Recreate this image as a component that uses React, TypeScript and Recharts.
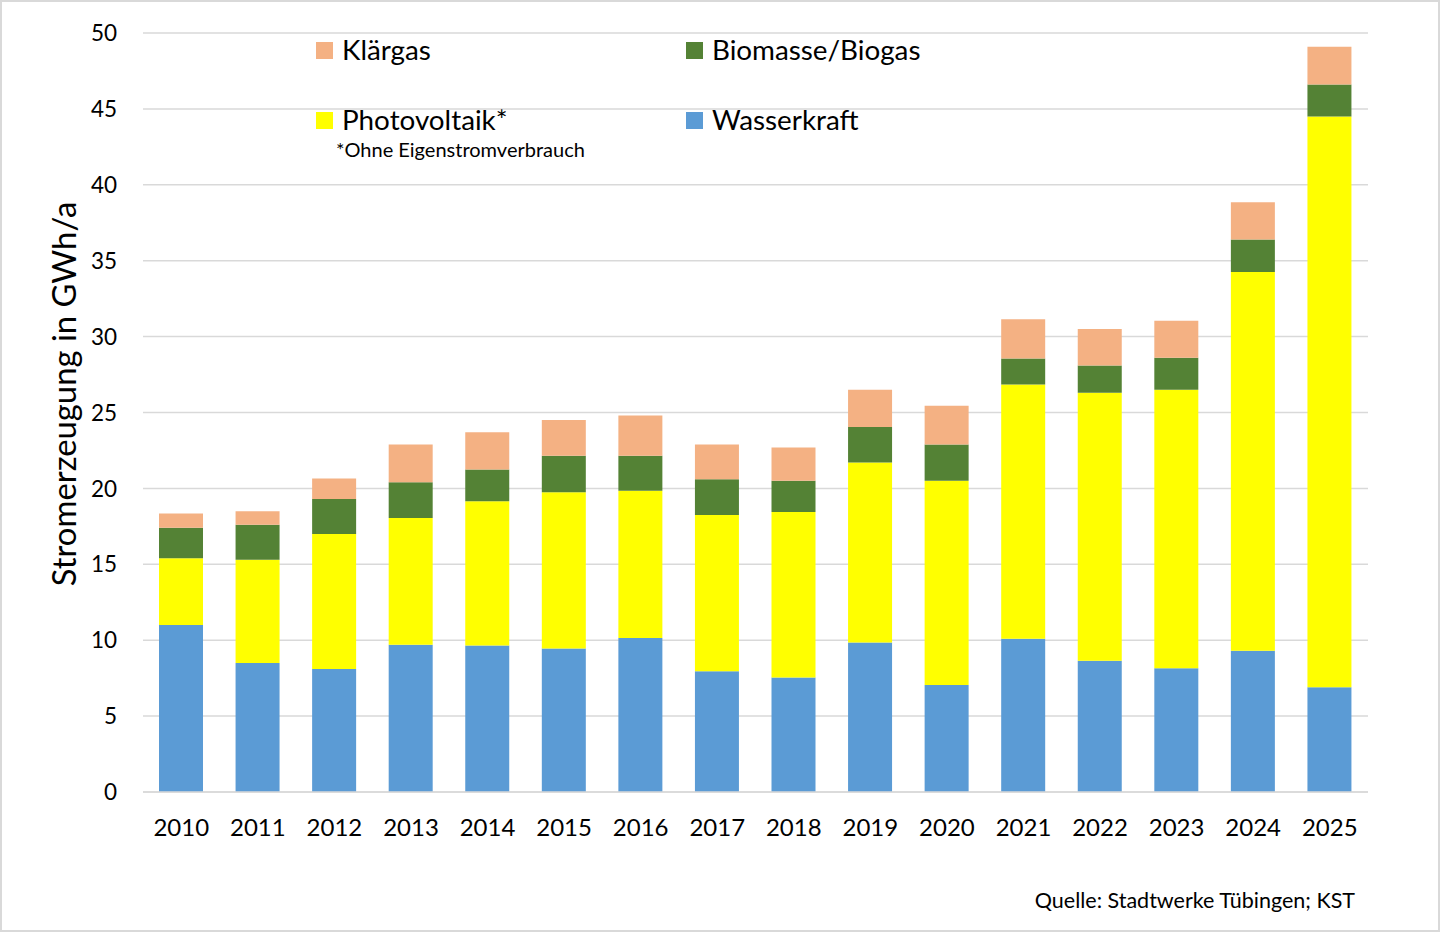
import { BarChart, Bar, XAxis, YAxis, CartesianGrid } from 'recharts';

const FONT = 'Lato, "Noto Sans", sans-serif';

// Jahre der X-Achse
const YEARS = ['2010', '2011', '2012', '2013', '2014', '2015', '2016', '2017', '2018', '2019', '2020', '2021', '2022', '2023', '2024', '2025'];

// Stromerzeugung je Quelle in GWh/a
const WASSERKRAFT = [11.0, 8.5, 8.1, 9.7, 9.65, 9.45, 10.15, 7.95, 7.55, 9.85, 7.05, 10.1, 8.65, 8.15, 9.3, 6.9];
const PHOTOVOLTAIK = [4.4, 6.8, 8.9, 8.35, 9.5, 10.3, 9.7, 10.3, 10.9, 11.85, 13.45, 16.75, 17.65, 18.35, 24.95, 37.6];
const BIOMASSE = [2.0, 2.3, 2.3, 2.35, 2.1, 2.4, 2.3, 2.35, 2.05, 2.35, 2.4, 1.7, 1.8, 2.1, 2.15, 2.1];
const KLAERGAS = [0.95, 0.9, 1.35, 2.5, 2.45, 2.35, 2.65, 2.3, 2.2, 2.45, 2.55, 2.6, 2.4, 2.45, 2.45, 2.5];

const Y_TICKS = [0, 5, 10, 15, 20, 25, 30, 35, 40, 45, 50];

// Stapelreihenfolge von unten nach oben
const SERIES = [
  { key: 'wasserkraft', label: 'Wasserkraft', color: '#5B9BD5', values: WASSERKRAFT },
  { key: 'photovoltaik', label: 'Photovoltaik*', color: '#FFFF00', values: PHOTOVOLTAIK },
  { key: 'biomasse', label: 'Biomasse/Biogas', color: '#548235', values: BIOMASSE },
  { key: 'klaergas', label: 'Klärgas', color: '#F4B183', values: KLAERGAS },
];

// Legende: zwei Spalten, zwei Zeilen wie im Original
const LEGEND = [
  { key: 'klaergas', x: 316, y: 42 },
  { key: 'biomasse', x: 686, y: 42 },
  { key: 'photovoltaik', x: 316, y: 112 },
  { key: 'wasserkraft', x: 686, y: 112 },
];

const data = YEARS.map((year, i) => {
  const row: { [k: string]: string | number } = { year };
  SERIES.forEach((s) => {
    row[s.key] = s.values[i];
  });
  return row;
});

function XTick({ x, y, payload }: any) {
  return (
    <text x={x} y={y + 44} textAnchor="middle" fontFamily={FONT} fontSize={24} fill="#000">
      {payload.value}
    </text>
  );
}

function YTick({ x, y, payload }: any) {
  return (
    <text x={x - 26} y={y} dy="0.36em" textAnchor="end" fontFamily={FONT} fontSize={22.5} fill="#000">
      {payload.value}
    </text>
  );
}

function YLabel() {
  return (
    <text
      x={63}
      y={394}
      transform="rotate(-90 63 394)"
      textAnchor="middle"
      dominantBaseline="central"
      fontFamily={FONT}
      fontSize={32.8}
      fill="#000">
      Stromerzeugung in GWh/a
    </text>
  );
}

export default function App() {
  return (
    <div style={{ position: 'fixed', left: 0, top: 0, width: 1440, height: 932, background: '#fff' }}>
      <BarChart
        width={1440}
        height={932}
        data={data}
        margin={{ top: 33, right: 72, bottom: 80, left: 0 }}>

        <CartesianGrid vertical={false} stroke="#d9d9d9" strokeWidth={1.5} />
        <XAxis
          dataKey="year"
          height={60}
          tickLine={false}
          tickSize={0}
          tickMargin={0}
          axisLine={{ stroke: '#d9d9d9', strokeWidth: 1.5 }}
          tick={<XTick />}
          interval={0} />

        <YAxis
          width={143}
          domain={[0, 50]}
          ticks={Y_TICKS}
          axisLine={false}
          tickLine={false}
          tickSize={0}
          tickMargin={0}
          tick={<YTick />}
          label={<YLabel />} />

        {SERIES.map((s) =>
        <Bar
          key={s.key}
          dataKey={s.key}
          name={s.label}
          stackId="a"
          fill={s.color}
          barSize={44}
          isAnimationActive={false} />
        )}
      </BarChart>

      <svg
        width={1440}
        height={932}
        style={{ position: 'absolute', left: 0, top: 0, pointerEvents: 'none' }}>

        {LEGEND.map((item) => {
          const s = SERIES.find((d) => d.key === item.key)!;
          return (
            <g key={item.key}>
              <rect x={item.x} y={item.y} width={17} height={17} fill={s.color} />
              <text x={item.x + 26} y={item.y + 17.5} fontFamily={FONT} fontSize={27.8} fill="#000">
                {s.label}
              </text>
            </g>);

        })}
        <text x={336} y={157} fontFamily={FONT} fontSize={20} fill="#000">
          *Ohne Eigenstromverbrauch
        </text>
        <text x={1355} y={908} textAnchor="end" fontFamily={FONT} fontSize={21.5} fill="#000">
          Quelle: Stadtwerke Tübingen; KST
        </text>
      </svg>

      <div
        style={{
          position: 'absolute',
          inset: 0,
          border: '2px solid #d9d9d9',
          pointerEvents: 'none',
        }} />
    </div>);

}
